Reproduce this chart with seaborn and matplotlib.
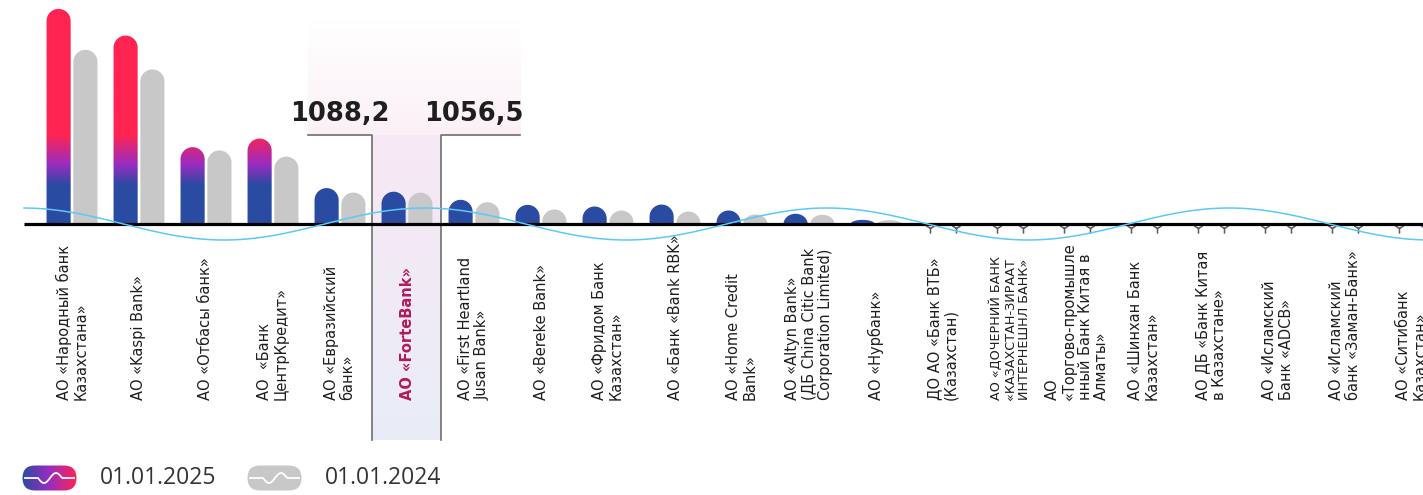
import numpy as np
import pandas as pd
import matplotlib.pyplot as plt
import seaborn as sns
from matplotlib.path import Path
from matplotlib.patches import PathPatch, FancyBboxPatch
from matplotlib.colors import LinearSegmentedColormap

# data
banks = [
    "АО «Народный банк\nКазахстана»",
    "АО «Kaspi Bank»",
    "АО «Отбасы банк»",
    "АО  «Банк\nЦентрКредит»",
    "АО «Евразийский\nбанк»",
    "АО «ForteBank»",
    "АО «First Heartland\nJusan Bank»",
    "АО «Bereke Bank»",
    "АО «Фридом Банк\nКазахстан»",
    "АО «Банк «Bank RBK»",
    "АО «Home Credit\nBank»",
    "АО «Altyn Bank»\n(ДБ China Citic Bank\nCorporation Limited)",
    "АО «Нурбанк»",
    "ДО АО «Банк ВТБ»\n(Казахстан)",
    "АО «ДОЧЕРНИЙ БАНК\n«КАЗАХСТАН-ЗИРААТ\nИНТЕРНЕШНЛ БАНК»",
    "АО\n«Торгово-промышле\nнный Банк Китая в\nАлматы»",
    "АО «Шинхан Банк\nКазахстан»",
    "АО ДБ «Банк Китая\nв Казахстане»",
    "АО «Исламский\nБанк «ADCB»",
    "АО «Исламский\nбанк «Заман-Банк»",
    "АО «Ситибанк\nКазахстан»",
]
val_2025 = [7250, 6350, 2590, 2880, 1210, 1088.2, 815, 645, 590, 655, 455, 345, 140,
            20, 15, 10, 20, 15, 10, 10, 10]
val_2024 = [5870, 5210, 2480, 2270, 1060, 1056.5, 735, 490, 455, 420, 320, 310, 130,
            15, 10, 10, 15, 10, 10, 10, 10]
years = ["01.01.2025", "01.01.2024"]
highlight = "АО «ForteBank»"

df = pd.DataFrame({
    "bank": banks * 2,
    "value": val_2025 + val_2024,
    "year": [years[0]] * len(banks) + [years[1]] * len(banks),
})

# layout helpers (pixels of a 1423x495 canvas)
W, H = 1423, 495
BASE = 224          # baseline row in px from top
PX = 33.7           # data units per pixel
STEP = 67           # px between categories
X0 = 72             # px centre of first category


def xd(px):
    return (px - X0) / STEP


def yd(py):
    return (BASE - py) * PX


BLUE, PURPLE, RED, GREY = "#2a4ba2", "#9a2cc0", "#ff2452", "#c8c8c8"

fig = plt.figure(figsize=(W / 100, H / 100), dpi=100)
ax = fig.add_axes([0, 0, 1, 1])
sns.barplot(data=df, x="bank", y="value", hue="year", hue_order=years,
            width=0.8, gap=0.1, palette=[BLUE, GREY], legend=False, ax=ax)


def top_rounded(x, w, h, ry):
    r = min(ry, h)
    t = np.linspace(np.pi, 0, 30)
    xs = x + w / 2 + w / 2 * np.cos(t)
    ys = h - r + r * np.sin(t)
    verts = [(x, 0)] + list(zip(xs, ys)) + [(x + w, 0), (x, 0)]
    codes = [Path.MOVETO] + [Path.LINETO] * (len(verts) - 2) + [Path.CLOSEPOLY]
    return Path(verts, codes)


# rebuild bars with rounded tops
new_paths = []
tiny = []
for k, cont in enumerate(ax.containers):
    for bar in cont:
        x, w, h = bar.get_x(), bar.get_width(), bar.get_height()
        bar.set_visible(False)
        ry = (w * STEP / 2) * PX
        p = top_rounded(x, w, h, ry)
        if h < 50:
            tiny.append(x + w / 2)
        if k == 0:
            new_paths.append(p)
        else:
            ax.add_patch(PathPatch(p, facecolor=GREY, edgecolor="none", zorder=3))

xmin, xmax = xd(0), xd(W)
ymin, ymax = yd(H), yd(0)

# colour of 2025 bars depends on height
stops = [(0, BLUE), (1300 / ymax, BLUE), (2000 / ymax, PURPLE), (3000 / ymax, RED), (1, RED)]
bar_cmap = LinearSegmentedColormap.from_list("bars", stops)
grad = np.linspace(0, 1, 600).reshape(-1, 1)
im = ax.imshow(grad, extent=[xmin, xmax, 0, ymax], origin="lower", aspect="auto",
               cmap=bar_cmap, zorder=3)
im.set_clip_path(PathPatch(Path.make_compound_path(*new_paths), transform=ax.transData))

ax.scatter(tiny, [yd(BASE + 4)] * len(tiny), marker="1", s=55, color="#5a5a5a",
           linewidths=1.1, zorder=3)

# highlighted bank
hi = banks.index(highlight)
top_cmap = LinearSegmentedColormap.from_list("top", ["#fbf0f6", "#ffffff"])
ax.imshow(grad, extent=[hi - 1.48, hi + 1.69, yd(135), yd(20)], origin="lower",
          aspect="auto", cmap=top_cmap, zorder=0)
col_cmap = LinearSegmentedColormap.from_list("col", ["#e9edf8", "#f7e8f4"])
ax.imshow(grad, extent=[hi - 0.52, hi + 0.5, yd(440), yd(135)], origin="lower",
          aspect="auto", cmap=col_cmap, zorder=0)
ax.plot([hi - 1.48, hi - 0.52, hi - 0.52], [yd(135), yd(135), yd(440)],
        color="#6e6e6e", lw=1.2, zorder=1)
ax.plot([hi + 1.69, hi + 0.5, hi + 0.5], [yd(135), yd(135), yd(440)],
        color="#6e6e6e", lw=1.2, zorder=1)
for v, dx in [(val_2025[hi], -1.0), (val_2024[hi], 1.0)]:
    ax.text(hi + dx, yd(121), f"{v:.1f}".replace(".", ","), ha="center", va="baseline",
            fontsize=18.5, fontweight="bold", color="#1e1e1e", family="DejaVu Sans")

# baseline and wave
ax.plot([xd(24), xmax], [0, 0], color="black", lw=2.3, zorder=5, solid_capstyle="butt")
wx = np.linspace(xd(24), xmax, 800)
ax.plot(wx, 16 * PX * np.cos(2 * np.pi * (wx - xd(23)) / 6), color="#5cc8f7", lw=1.1,
        zorder=6)

# category labels
for i, name in enumerate(banks):
    kw = dict(fontsize=10.5, color="#1e1e1e")
    if name == highlight:
        kw = dict(fontsize=10.5, color="#b3195c", fontweight="bold")
    elif "ДОЧЕРНИЙ" in name:
        kw = dict(fontsize=9.2, color="#1e1e1e")
    ax.text(i, yd(400), name, rotation=90, ha="center", va="bottom",
            multialignment="left", linespacing=1.1, family="DejaVu Sans", **kw)

ax.set_xlim(xmin, xmax)
ax.set_ylim(ymin, ymax)
ax.axis("off")

# legend
legend_items = [(22, years[0], [BLUE, PURPLE, RED]), (247, years[1], [GREY, GREY])]
for px0, label, cols in legend_items:
    lax = fig.add_axes([px0 / W, (H - 491) / H, 55 / W, 26 / H])
    lax.set_xlim(0, 55)
    lax.set_ylim(0, 26)
    lax.axis("off")
    pill = FancyBboxPatch((0.5, 0.5), 54, 25, boxstyle="round,pad=0,rounding_size=12.5",
                          facecolor="none", edgecolor="none")
    lax.add_patch(pill)
    g = lax.imshow(np.linspace(0, 1, 200).reshape(1, -1), extent=[0, 55, 0, 26],
                   aspect="auto", cmap=LinearSegmentedColormap.from_list("lg", cols))
    g.set_clip_path(pill)
    lx = np.linspace(3, 52, 200)
    ly = np.where((lx > 16) & (lx < 40), 13 - 5 * np.sin(2 * np.pi * (lx - 16) / 24), 13)
    lax.plot(lx, ly, color="white", lw=1.3)
    fig.text((px0 + 78) / W, (H - 478) / H, label, fontsize=16.5, color="#333333",
             va="center", family=["Open Sans", "DejaVu Sans"])

fig.savefig("out.png", dpi=100)
